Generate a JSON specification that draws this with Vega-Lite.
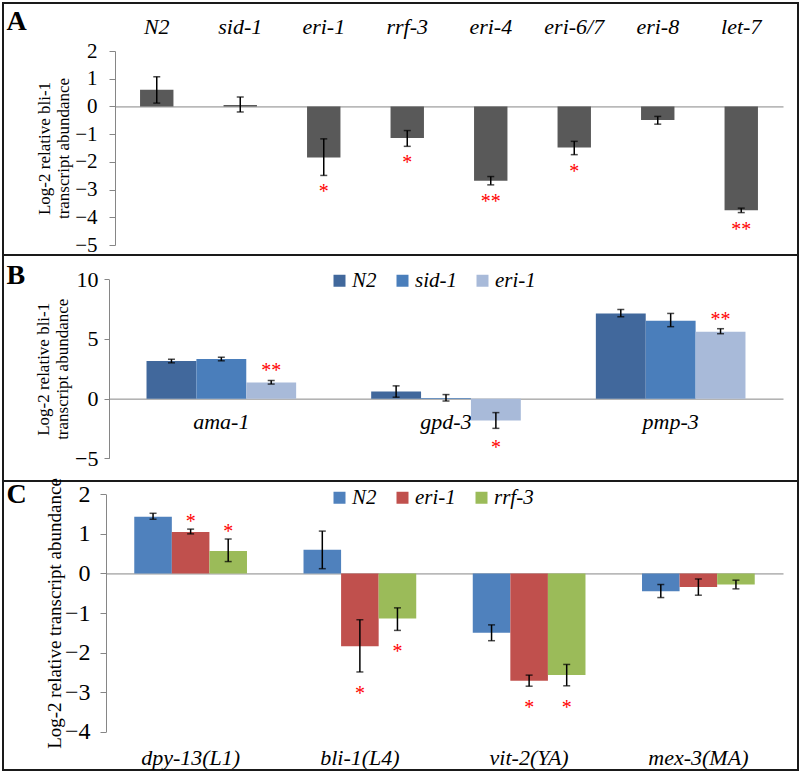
{
  "$schema": "https://vega.github.io/schema/vega-lite/v6.json",
  "padding": {"left": 2, "top": 2, "right": 3, "bottom": 3},
  "background": "white",
  "spacing": 0,
  "bounds": "flush",
  "resolve": {"scale": {"color": "independent", "xOffset": "independent", "x": "independent", "y": "independent"}, "legend": {"color": "independent"}},
  "config": {
    "view": {"stroke": "#1a1a1a", "strokeWidth": 2},
    "font": "Times New Roman, Liberation Serif, serif",
    "text": {"font": "Times New Roman, Liberation Serif, serif"},
    "axis": {"labelFont": "Times New Roman, Liberation Serif, serif", "titleFont": "Times New Roman, Liberation Serif, serif", "labelColor": "#000", "titleColor": "#000", "domainColor": "#868686", "tickColor": "#868686", "grid": false, "titleFontWeight": "normal", "labelOverlap": false},
    "legend": {"labelFont": "Times New Roman, Liberation Serif, serif", "labelFontStyle": "italic", "labelFontSize": 21, "labelColor": "#000", "symbolType": "square", "symbolSize": 144, "symbolStrokeWidth": 0, "columnPadding": 15, "labelOffset": 2}
  },
  "vconcat": [
    {
      "width": 795, "height": 252,
      "data": {"values": [
        {"strain": "N2", "value": 0.6, "lo": 0.12, "hi": 1.07, "sig": ""},
        {"strain": "sid-1", "value": 0.05, "lo": -0.2, "hi": 0.34, "sig": ""},
        {"strain": "eri-1", "value": -1.84, "lo": -2.49, "hi": -1.17, "sig": "*"},
        {"strain": "rrf-3", "value": -1.14, "lo": -1.44, "hi": -0.87, "sig": "*"},
        {"strain": "eri-4", "value": -2.68, "lo": -2.83, "hi": -2.53, "sig": "**"},
        {"strain": "eri-6/7", "value": -1.48, "lo": -1.74, "hi": -1.26, "sig": "*"},
        {"strain": "eri-8", "value": -0.49, "lo": -0.64, "hi": -0.36, "sig": ""},
        {"strain": "let-7", "value": -3.75, "lo": -3.83, "hi": -3.67, "sig": "**"}
      ]},
      "layer": [
        {"mark": {"type": "bar", "color": "#595959"},
         "encoding": {
           "x": {"field": "strain", "type": "nominal", "sort": null,
                 "scale": {"range": [112, 780], "paddingInner": 0.6, "paddingOuter": 0.3},
                 "axis": {"orient": "top", "offset": -40, "domain": false, "ticks": false, "tickSize": 0, "labelPadding": 10, "labelBaseline": "alphabetic", "labelFontSize": 22, "labelFontStyle": "italic", "labelAngle": 0, "title": null}},
           "y": {"field": "value", "type": "quantitative",
                 "scale": {"domain": [-5, 2], "range": [242, 48], "nice": false, "zero": false},
                 "axis": {"offset": -112, "values": [-5, -4, -3, -2, -1, 0, 1, 2], "tickCount": 10, "format": "d", "labelOverlap": false, "tickSize": 6, "labelPadding": 12, "labelFontSize": 21, "title": ["Log-2 relative bli-1", "transcript abundance"], "titleFontSize": 17, "titlePadding": 2}}
         }},
        {"mark": {"type": "rule", "color": "#000", "strokeWidth": 1.5},
         "encoding": {
           "x": {"field": "strain", "type": "nominal", "sort": null, "axis": {"orient": "bottom", "offset": -148.57, "labels": false, "ticks": false, "domainColor": "#868686", "title": "A", "titleX": 3, "titleY": -77.4, "titleAlign": "left", "titleBaseline": "alphabetic", "titleAngle": 0, "titleFontSize": 28, "titleFontWeight": "bold"}},
           "y": {"field": "lo", "type": "quantitative"}, "y2": {"field": "hi"}}},
        {"mark": {"type": "tick", "color": "#000", "size": 7, "thickness": 1.5},
         "encoding": {"x": {"field": "strain", "type": "nominal", "sort": null, "axis": null}, "y": {"field": "lo", "type": "quantitative"}}},
        {"mark": {"type": "tick", "color": "#000", "size": 7, "thickness": 1.5},
         "encoding": {"x": {"field": "strain", "type": "nominal", "sort": null, "axis": null}, "y": {"field": "hi", "type": "quantitative"}}},
        {"transform": [{"filter": "datum.sig != ''"}],
         "mark": {"type": "text", "color": "#FF0000", "fontSize": 20, "dy": 23, "baseline": "alphabetic"},
         "encoding": {"x": {"field": "strain", "type": "nominal", "sort": null, "axis": null}, "y": {"field": "lo", "type": "quantitative"}, "text": {"field": "sig"}}}
      ],
      "resolve": {"axis": {"x": "independent"}}
    },
    {
      "width": 795, "height": 226,
      "data": {"values": [
        {"gene": "ama-1", "strain": "N2", "value": 3.15, "lo": 3.0, "hi": 3.3, "sig": ""},
        {"gene": "ama-1", "strain": "sid-1", "value": 3.32, "lo": 3.17, "hi": 3.47, "sig": ""},
        {"gene": "ama-1", "strain": "eri-1", "value": 1.36, "lo": 1.22, "hi": 1.52, "sig": "**"},
        {"gene": "gpd-3", "strain": "N2", "value": 0.6, "lo": 0.12, "hi": 1.07, "sig": ""},
        {"gene": "gpd-3", "strain": "sid-1", "value": 0.05, "lo": -0.2, "hi": 0.34, "sig": ""},
        {"gene": "gpd-3", "strain": "eri-1", "value": -1.84, "lo": -2.49, "hi": -1.17, "sig": "*"},
        {"gene": "pmp-3", "strain": "N2", "value": 7.13, "lo": 6.86, "hi": 7.47, "sig": ""},
        {"gene": "pmp-3", "strain": "sid-1", "value": 6.53, "lo": 6.03, "hi": 7.14, "sig": ""},
        {"gene": "pmp-3", "strain": "eri-1", "value": 5.61, "lo": 5.44, "hi": 5.86, "sig": "**"}
      ]},
      "layer": [
        {"mark": {"type": "bar"},
         "encoding": {
           "x": {"field": "gene", "type": "nominal", "sort": null,
                 "scale": {"range": [106, 780], "paddingInner": 0.334, "paddingOuter": 0.167},
                 "axis": {"orient": "bottom", "offset": -82.37, "domain": true, "ticks": false, "tickSize": 0, "labelPadding": 30, "labelBaseline": "alphabetic", "labelFontSize": 22, "labelFontStyle": "italic", "labelAngle": 0, "title": "B", "titleX": 3, "titleY": -115.6, "titleAlign": "left", "titleBaseline": "alphabetic", "titleAngle": 0, "titleFontSize": 28, "titleFontWeight": "bold"}},
           "xOffset": {"field": "strain", "type": "nominal", "sort": ["N2", "sid-1", "eri-1"], "scale": {"paddingInner": 0, "paddingOuter": 0}},
           "y": {"field": "value", "type": "quantitative",
                 "scale": {"domain": [-5, 10], "range": [203.3, 24.3], "nice": false, "zero": false},
                 "axis": {"offset": -106, "values": [-5, 0, 5, 10], "tickCount": 10, "format": "d", "labelOverlap": false, "tickSize": 5, "labelPadding": 6, "labelFontSize": 22, "title": ["Log-2 relative bli-1", "transcript abundance"], "titleFontSize": 17, "titlePadding": 3}},
           "color": {"field": "strain", "type": "nominal", "sort": ["N2", "sid-1", "eri-1"],
                     "scale": {"domain": ["N2", "sid-1", "eri-1"], "range": ["#41689C", "#4A7EBB", "#A8BAD9"]},
                     "legend": {"orient": "none", "direction": "horizontal", "legendX": 326, "legendY": 15, "title": null}}
         }},
        {"mark": {"type": "rule", "color": "#000", "strokeWidth": 1.5},
         "encoding": {
           "x": {"field": "gene", "type": "nominal", "sort": null},
           "xOffset": {"field": "strain", "type": "nominal", "sort": ["N2", "sid-1", "eri-1"]},
           "y": {"field": "lo", "type": "quantitative"}, "y2": {"field": "hi"}}},
        {"mark": {"type": "tick", "color": "#000", "size": 7, "thickness": 1.5},
         "encoding": {"x": {"field": "gene", "type": "nominal", "sort": null}, "xOffset": {"field": "strain", "type": "nominal", "sort": ["N2", "sid-1", "eri-1"]}, "y": {"field": "lo", "type": "quantitative"}}},
        {"mark": {"type": "tick", "color": "#000", "size": 7, "thickness": 1.5},
         "encoding": {"x": {"field": "gene", "type": "nominal", "sort": null}, "xOffset": {"field": "strain", "type": "nominal", "sort": ["N2", "sid-1", "eri-1"]}, "y": {"field": "hi", "type": "quantitative"}}},
        {"transform": [{"filter": "datum.sig != '' && datum.value < 0"}],
         "mark": {"type": "text", "color": "#FF0000", "fontSize": 20, "dy": 26, "baseline": "alphabetic"},
         "encoding": {"x": {"field": "gene", "type": "nominal", "sort": null}, "xOffset": {"field": "strain", "type": "nominal", "sort": ["N2", "sid-1", "eri-1"]}, "y": {"field": "lo", "type": "quantitative"}, "text": {"field": "sig"}}},
        {"transform": [{"filter": "datum.sig != '' && datum.value >= 0"}],
         "mark": {"type": "text", "color": "#FF0000", "fontSize": 20, "dy": -3, "baseline": "alphabetic"},
         "encoding": {"x": {"field": "gene", "type": "nominal", "sort": null}, "xOffset": {"field": "strain", "type": "nominal", "sort": ["N2", "sid-1", "eri-1"]}, "y": {"field": "hi", "type": "quantitative"}, "text": {"field": "sig"}}}
      ]
    },
    {
      "width": 795, "height": 289,
      "data": {"values": [
        {"gene": "dpy-13(L1)", "strain": "N2", "value": 1.43, "lo": 1.37, "hi": 1.52, "sig": ""},
        {"gene": "dpy-13(L1)", "strain": "eri-1", "value": 1.05, "lo": 1.0, "hi": 1.12, "sig": "*"},
        {"gene": "dpy-13(L1)", "strain": "rrf-3", "value": 0.57, "lo": 0.3, "hi": 0.87, "sig": "*"},
        {"gene": "bli-1(L4)", "strain": "N2", "value": 0.6, "lo": 0.12, "hi": 1.07, "sig": ""},
        {"gene": "bli-1(L4)", "strain": "eri-1", "value": -1.84, "lo": -2.49, "hi": -1.17, "sig": "*"},
        {"gene": "bli-1(L4)", "strain": "rrf-3", "value": -1.14, "lo": -1.44, "hi": -0.87, "sig": "*"},
        {"gene": "vit-2(YA)", "strain": "N2", "value": -1.5, "lo": -1.7, "hi": -1.3, "sig": ""},
        {"gene": "vit-2(YA)", "strain": "eri-1", "value": -2.71, "lo": -2.85, "hi": -2.57, "sig": "*"},
        {"gene": "vit-2(YA)", "strain": "rrf-3", "value": -2.57, "lo": -2.84, "hi": -2.3, "sig": "*"},
        {"gene": "mex-3(MA)", "strain": "N2", "value": -0.45, "lo": -0.61, "hi": -0.28, "sig": ""},
        {"gene": "mex-3(MA)", "strain": "eri-1", "value": -0.34, "lo": -0.55, "hi": -0.14, "sig": ""},
        {"gene": "mex-3(MA)", "strain": "rrf-3", "value": -0.28, "lo": -0.39, "hi": -0.17, "sig": ""}
      ]},
      "layer": [
        {"mark": {"type": "bar"},
         "encoding": {
           "x": {"field": "gene", "type": "nominal", "sort": null,
                 "scale": {"range": [103, 780], "paddingInner": 0.334, "paddingOuter": 0.167},
                 "axis": {"orient": "bottom", "offset": -20, "domain": false, "ticks": false, "tickSize": 0, "labelPadding": 14, "labelBaseline": "alphabetic", "labelFontSize": 22, "labelFontStyle": "italic", "labelAngle": 0, "title": null}},
           "xOffset": {"field": "strain", "type": "nominal", "sort": ["N2", "eri-1", "rrf-3"], "scale": {"paddingInner": 0, "paddingOuter": 0}},
           "y": {"field": "value", "type": "quantitative",
                 "scale": {"domain": [-4, 2], "range": [250.7, 13.3], "nice": false, "zero": false},
                 "axis": {"offset": -103, "values": [-4, -3, -2, -1, 0, 1, 2], "tickCount": 10, "format": "d", "labelOverlap": false, "tickSize": 6, "labelPadding": 10, "labelFontSize": 24, "title": "Log-2 relative transcript abundance", "titleFontSize": 19, "titlePadding": 0}},
           "color": {"field": "strain", "type": "nominal", "sort": ["N2", "eri-1", "rrf-3"],
                     "scale": {"domain": ["N2", "eri-1", "rrf-3"], "range": ["#4F81BD", "#C0504D", "#9BBB59"]},
                     "legend": {"orient": "none", "direction": "horizontal", "legendX": 326, "legendY": 6, "title": null}}
         }},
        {"mark": {"type": "rule", "color": "#000", "strokeWidth": 1.5},
         "encoding": {
           "x": {"field": "gene", "type": "nominal", "sort": null, "axis": {"orient": "bottom", "offset": -196.57, "labels": false, "ticks": false, "domainColor": "#868686", "title": "C", "titleX": 3, "titleY": -71.4, "titleAlign": "left", "titleBaseline": "alphabetic", "titleAngle": 0, "titleFontSize": 28, "titleFontWeight": "bold"}},
           "xOffset": {"field": "strain", "type": "nominal", "sort": ["N2", "eri-1", "rrf-3"]},
           "y": {"field": "lo", "type": "quantitative"}, "y2": {"field": "hi"}}},
        {"mark": {"type": "tick", "color": "#000", "size": 7, "thickness": 1.5},
         "encoding": {"x": {"field": "gene", "type": "nominal", "sort": null, "axis": null}, "xOffset": {"field": "strain", "type": "nominal", "sort": ["N2", "eri-1", "rrf-3"]}, "y": {"field": "lo", "type": "quantitative"}}},
        {"mark": {"type": "tick", "color": "#000", "size": 7, "thickness": 1.5},
         "encoding": {"x": {"field": "gene", "type": "nominal", "sort": null, "axis": null}, "xOffset": {"field": "strain", "type": "nominal", "sort": ["N2", "eri-1", "rrf-3"]}, "y": {"field": "hi", "type": "quantitative"}}},
        {"transform": [{"filter": "datum.sig != '' && datum.value < 0"}],
         "mark": {"type": "text", "color": "#FF0000", "fontSize": 20, "dy": 28, "baseline": "alphabetic"},
         "encoding": {"x": {"field": "gene", "type": "nominal", "sort": null, "axis": null}, "xOffset": {"field": "strain", "type": "nominal", "sort": ["N2", "eri-1", "rrf-3"]}, "y": {"field": "lo", "type": "quantitative"}, "text": {"field": "sig"}}},
        {"transform": [{"filter": "datum.sig != '' && datum.value >= 0"}],
         "mark": {"type": "text", "color": "#FF0000", "fontSize": 20, "dy": -1, "baseline": "alphabetic"},
         "encoding": {"x": {"field": "gene", "type": "nominal", "sort": null, "axis": null}, "xOffset": {"field": "strain", "type": "nominal", "sort": ["N2", "eri-1", "rrf-3"]}, "y": {"field": "hi", "type": "quantitative"}, "text": {"field": "sig"}}}
      ],
      "resolve": {"axis": {"x": "independent"}}
    }
  ]
}
